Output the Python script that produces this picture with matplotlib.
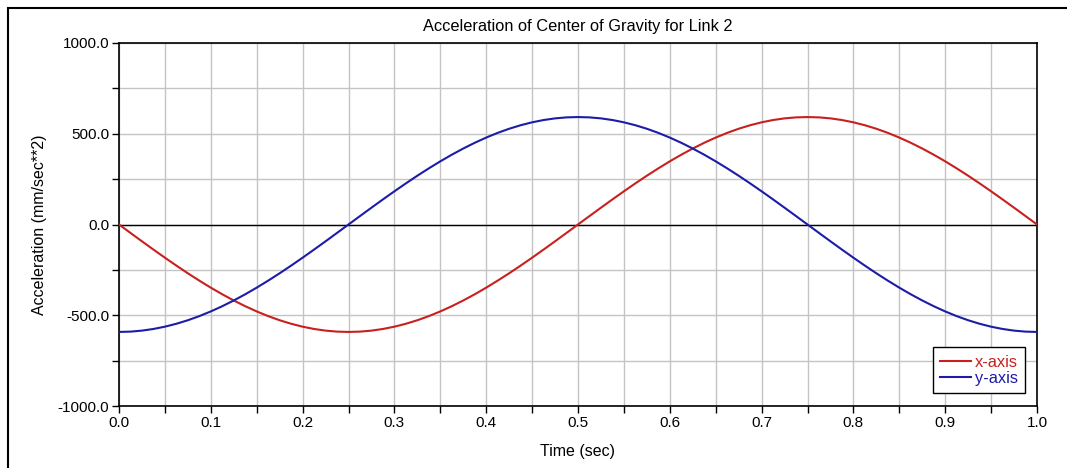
import matplotlib.pyplot as plt
from matplotlib.patches import Rectangle
from matplotlib.ticker import MultipleLocator, FormatStrFormatter

plt.rcParams['font.family'] = ['Liberation Sans', 'DejaVu Sans']

# time samples (sec)
t = [0.0, 0.0125, 0.025, 0.0375, 0.05, 0.0625, 0.075, 0.0875, 0.1, 0.1125,
     0.125, 0.1375, 0.15, 0.1625, 0.175, 0.1875, 0.2, 0.2125, 0.225, 0.2375,
     0.25, 0.2625, 0.275, 0.2875, 0.3, 0.3125, 0.325, 0.3375, 0.35, 0.3625,
     0.375, 0.3875, 0.4, 0.4125, 0.425, 0.4375, 0.45, 0.4625, 0.475, 0.4875,
     0.5, 0.5125, 0.525, 0.5375, 0.55, 0.5625, 0.575, 0.5875, 0.6, 0.6125,
     0.625, 0.6375, 0.65, 0.6625, 0.675, 0.6875, 0.7, 0.7125, 0.725, 0.7375,
     0.75, 0.7625, 0.775, 0.7875, 0.8, 0.8125, 0.825, 0.8375, 0.85, 0.8625,
     0.875, 0.8875, 0.9, 0.9125, 0.925, 0.9375, 0.95, 0.9625, 0.975, 0.9875,
     1.0]

# acceleration (mm/sec**2)
acc_x = [0, -46.4, -92.6, -138.2, -182.9, -226.5, -268.8, -309.3, -348.0, -384.5,
         -418.6, -450.2, -478.9, -504.8, -527.5, -546.9, -563.0, -575.6, -584.7, -590.2,
         -592.0, -590.2, -584.7, -575.6, -563.0, -546.9, -527.5, -504.8, -478.9, -450.2,
         -418.6, -384.5, -348.0, -309.3, -268.8, -226.5, -182.9, -138.2, -92.6, -46.4,
         0, 46.4, 92.6, 138.2, 182.9, 226.5, 268.8, 309.3, 348.0, 384.5,
         418.6, 450.2, 478.9, 504.8, 527.5, 546.9, 563.0, 575.6, 584.7, 590.2,
         592.0, 590.2, 584.7, 575.6, 563.0, 546.9, 527.5, 504.8, 478.9, 450.2,
         418.6, 384.5, 348.0, 309.3, 268.8, 226.5, 182.9, 138.2, 92.6, 46.4,
         0]
acc_y = [-592.0, -590.2, -584.7, -575.6, -563.0, -546.9, -527.5, -504.8, -478.9, -450.2,
         -418.6, -384.5, -348.0, -309.3, -268.8, -226.5, -182.9, -138.2, -92.6, -46.4,
         0, 46.4, 92.6, 138.2, 182.9, 226.5, 268.8, 309.3, 348.0, 384.5,
         418.6, 450.2, 478.9, 504.8, 527.5, 546.9, 563.0, 575.6, 584.7, 590.2,
         592.0, 590.2, 584.7, 575.6, 563.0, 546.9, 527.5, 504.8, 478.9, 450.2,
         418.6, 384.5, 348.0, 309.3, 268.8, 226.5, 182.9, 138.2, 92.6, 46.4,
         0, -46.4, -92.6, -138.2, -182.9, -226.5, -268.8, -309.3, -348.0, -384.5,
         -418.6, -450.2, -478.9, -504.8, -527.5, -546.9, -563.0, -575.6, -584.7, -590.2,
         -592.0]

red = '#c8201e'
blue = '#1c1ca8'

fig = plt.figure(figsize=(10.67, 4.68), dpi=100)
# panel border (right and bottom edges fall outside the image)
fig.patches.append(Rectangle((8/1067, -0.05), 1.1, 1.05 - 8/468,
                             transform=fig.transFigure, fill=False,
                             edgecolor='black', linewidth=1.5))
ax = fig.add_axes([119/1067, 1 - 406/468, 918/1067, 363/468])

ax.axhline(0, color='black', linewidth=1, zorder=1)
ax.plot(t, acc_x, color=red, linewidth=1.5, label='x-axis', zorder=3)
ax.plot(t, acc_y, color=blue, linewidth=1.5, label='y-axis', zorder=3)

ax.set_xlim(0, 1)
ax.set_ylim(-1000, 1000)
ax.xaxis.set_major_locator(MultipleLocator(0.1))
ax.xaxis.set_minor_locator(MultipleLocator(0.05))
ax.yaxis.set_major_locator(MultipleLocator(500))
ax.yaxis.set_minor_locator(MultipleLocator(250))
ax.xaxis.set_major_formatter(FormatStrFormatter('%.1f'))
ax.yaxis.set_major_formatter(FormatStrFormatter('%.1f'))
ax.grid(True, which='both', color='#c4c4c4', linewidth=1, zorder=0)
ax.set_axisbelow(True)
ax.tick_params(which='both', direction='out', length=5, width=1, labelsize=11,
               colors='black', pad=2)
for s in ax.spines.values():
    s.set_color('black')
    s.set_linewidth(1.2)

ax.set_title('Acceleration of Center of Gravity for Link 2', fontsize=11.75, pad=9)
ax.set_xlabel('Time (sec)', fontsize=11.5, labelpad=10)
ax.set_ylabel('Acceleration (mm/sec**2)', fontsize=11.5, labelpad=8)

leg = ax.legend(loc='lower right', fontsize=11.75, handlelength=1.9,
                handletextpad=0.2, borderpad=0.45, labelspacing=0.05,
                fancybox=False, framealpha=1, edgecolor='black',
                borderaxespad=0, bbox_to_anchor=(0.987, 0.036))
leg.get_frame().set_linewidth(1)
for txt, c in zip(leg.get_texts(), [red, blue]):
    txt.set_color(c)

fig.savefig('out.png', dpi=100)
